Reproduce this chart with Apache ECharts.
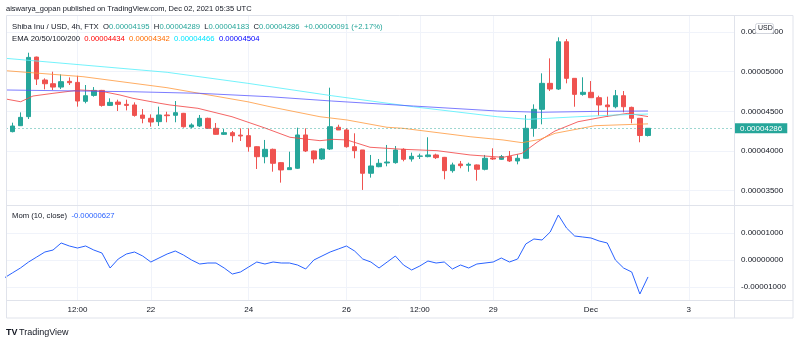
<!DOCTYPE html>
<html><head><meta charset="utf-8">
<script src="https://cdn.jsdelivr.net/npm/echarts@6/dist/echarts.min.js"></script>
<style>html,body{margin:0;padding:0;background:#fff}#c{width:800px;height:343px}</style>
</head><body><div id="c"></div>
<script>
// Prices are stored in units of 1e-8 USD (SHIB/USD, 4h candles, first candle = Nov 19 04:00)
const UNIT = 1e-8;
const opens  = [4244,4319,4433,5184,4895,4848,4806,4878,4865,4626,4701,4764,4575,4617,4588,4580,4453,4412,4370,4454,
                4450,4475,4302,4315,4412,4286,4210,4231,4200,4193,4054,3928,4021,3853,3765,3782,4202,4000,3899,4025,
                4299,4265,4054,4013,3719,3802,3849,3853,4021,3899,3933,3929,3950,3920,3752,3836,3820,3824,3769,3912,
                3895,3929,3874,3908,4286,4525,4853,4781,5377,4916,4714,4740,4672,4580,4558,4697,4550,4412,4195];
const closes = [4315,4424,5180,4907,4848,4806,4874,4861,4630,4697,4764,4575,4613,4588,4575,4449,4412,4365,4454,4445,
                4483,4306,4328,4412,4286,4210,4231,4193,4189,4054,3928,4021,3845,3761,3790,4202,4000,3899,4025,4306,
                4265,4054,4004,3719,3811,3845,3861,4013,3895,3933,3937,3950,3916,3752,3824,3815,3832,3769,3908,3899,
                3929,3874,3908,4286,4525,4853,4781,5377,4916,4714,4740,4672,4580,4558,4697,4558,4412,4195,4286];
const lows   = [4235,4315,4403,4832,4777,4769,4781,4832,4559,4601,4685,4559,4567,4504,4512,4433,4349,4307,4315,4362,
                4362,4294,4286,4302,4280,4205,4202,4110,4126,3991,3773,3845,3739,3601,3761,3773,3987,3845,3887,4013,
                4265,4042,3908,3509,3664,3795,3807,3840,3870,3866,3899,3920,3899,3643,3727,3782,3739,3626,3756,3887,
                3887,3861,3832,3899,4180,4336,4756,4769,4853,4558,4697,4668,4445,4433,4538,4488,4349,4110,4183];
const highs  = [4357,4487,5239,5190,4916,5000,4966,4928,4949,4832,4806,4770,4664,4647,4647,4613,4529,4462,4559,4495,
                4630,4480,4349,4454,4420,4353,4277,4252,4286,4286,4060,4139,4030,3860,3991,4294,4286,4005,4034,4798,
                4331,4286,4223,4013,3950,3899,4076,4063,4034,3979,3966,4173,3966,3925,3853,3874,3853,3830,3950,4034,
                3950,4000,3958,4454,4588,4979,5168,5433,5411,4920,4929,4882,4697,4685,4769,4756,4559,4412,4289];

// EMA lines (x = candle index, value in 1e-8 USD)
const ema20X  = [-0.77,1.03,2.54,4.99,8.31,10.76,13.21,14.81,18.12,19.35,22.78,26.96,31.0,34.07,37.75,39.35,41.06,43.89,47.94,52.11,56.17,60.21,62.54,64.5,66.59,69.41,72.72,75.54,78];
const ema20   = [4655,4621,4693,4727,4769,4756,4706,4664,4601,4580,4538,4432,4290,4173,4130,4147,4139,4047,4021,4004,3950,3920,3971,4118,4252,4369,4432,4475,4434];
const ema50X  = [-0.77,8.67,18.98,28.92,31.62,37.75,41.06,45.97,47.94,56.17,60.21,62.54,64.75,66.59,71.5,78];
const ema50   = [5012,4937,4798,4620,4558,4432,4391,4299,4286,4180,4139,4105,4147,4223,4319,4342];
const ema100X = [-0.77,8.67,19,28.9,39.2,49.2,59.5,63.3,69.4,74,78];
const ema100  = [5168,5084,4992,4853,4697,4558,4432,4399,4432,4454,4466];
const ema200X = [-0.77,14.8,23,31.6,39.2,49.2,59.5,64.7,72.1,78];
const ema200  = [4769,4747,4727,4684,4630,4567,4504,4488,4500,4504];

// Momentum (10, close), first value at candle index -1
const momStart = -1;
const mom = [-667,-481,-296,-74,111,296,370,630,519,444,519,370,259,-296,37,222,296,148,-74,74,
             222,333,185,0,-148,-111,-111,-296,-519,-444,-259,-74,-148,-74,-111,-111,-185,-333,0,148,
             296,407,519,333,37,-74,-296,-74,148,-185,-370,-222,-37,-111,-74,-333,-185,-296,-148,-111,
             -74,74,-74,37,593,778,741,1037,1667,1185,889,852,815,704,630,0,-296,-444,-1259,-627];

const timeTickIdx    = [8,17,29,41,50,59,71,83];
const timeTickLabels = ['12:00','22','24','26','12:00','29','Dec','3'];
const priceTicks = [3500,4000,4500,5000,5500];
const momTicks   = [-1000,0,1000];

const FONT = 'Liberation Sans';
const UP = '#26a69a', DOWN = '#ef5350', GRID = '#f0f3fa', FRAME = '#e0e3eb', TXT = '#131722';
const fmt = v => (v * UNIT).toFixed(8);

const last = closes.length - 1;
const chg = closes[last] - closes[last - 1];
const pct = (chg / closes[last - 1] * 100).toFixed(2);
const sgn = chg >= 0 ? '+' : '-';

const candleData = opens.map((o, i) => [i, o, closes[i], lows[i], highs[i]]);
const pairs = (xs, ys) => xs.map((x, i) => [x, ys[i]]);
const momData = mom.map((v, i) => [momStart + i, v]);

const xCommon = {
  type: 'value', min: -0.77, max: 88.55,
  axisLine: { show: false },
  axisTick: { show: false, customValues: timeTickIdx },
  splitLine: { show: true, lineStyle: { color: GRID, width: 1 } }
};
const LF = 7.7;

const chart = echarts.init(document.getElementById('c'), null, { renderer: 'canvas' });
chart.setOption({
  animation: false,
  backgroundColor: '#ffffff',
  textStyle: { fontFamily: FONT },
  grid: [
    { left: 6, top: 16, width: 728, height: 189 },
    { left: 6, top: 206, width: 728, height: 94 }
  ],
  xAxis: [
    Object.assign({ gridIndex: 0, axisLabel: { show: false } }, xCommon),
    Object.assign({ gridIndex: 1, axisLabel: {
      show: true, customValues: timeTickIdx, fontSize: 8, fontFamily: FONT, color: TXT, margin: 6,
      formatter: v => timeTickLabels[timeTickIdx.indexOf(v)] || ''
    } }, xCommon)
  ],
  yAxis: [
    { gridIndex: 0, type: 'value', position: 'right', min: 3319, max: 5702,
      axisLine: { show: false }, axisTick: { show: false, customValues: priceTicks },
      axisLabel: { customValues: priceTicks, formatter: fmt, fontSize: 8, fontFamily: FONT, color: TXT, align: 'left', margin: 7 },
      splitLine: { show: true, lineStyle: { color: GRID } } },
    { gridIndex: 1, type: 'value', position: 'right', min: -1481, max: 2000,
      axisLine: { show: false }, axisTick: { show: false, customValues: momTicks },
      axisLabel: { customValues: momTicks, formatter: fmt, fontSize: 8, fontFamily: FONT, color: TXT, align: 'left', margin: 7 },
      splitLine: { show: true, lineStyle: { color: GRID } } }
  ],
  series: [
    { type: 'candlestick', xAxisIndex: 0, yAxisIndex: 0, data: candleData,
      encode: { x: 0, y: [1, 2, 3, 4] }, barWidth: 5, z: 2,
      itemStyle: { color: UP, color0: DOWN, borderColor: UP, borderColor0: DOWN, borderWidth: 1 },
      markLine: { silent: true, symbol: ['none', 'none'], animation: false,
        lineStyle: { type: [2, 2], color: 'rgba(38,166,154,0.45)', width: 1 },
        label: { position: 'end', distance: 1, formatter: p => fmt(p.value), color: '#fff', backgroundColor: UP,
                 fontSize: 8, fontFamily: FONT, padding: [1, 5, 1, 5] },
        data: [{ yAxis: closes[last] }] } },
    { type: 'line', name: 'EMA20', xAxisIndex: 0, yAxisIndex: 0, data: pairs(ema20X, ema20), showSymbol: false, z: 3,
      lineStyle: { color: 'rgba(242,74,74,0.85)', width: 1 } },
    { type: 'line', name: 'EMA50', xAxisIndex: 0, yAxisIndex: 0, data: pairs(ema50X, ema50), showSymbol: false, z: 3,
      lineStyle: { color: 'rgba(255,152,60,0.8)', width: 1 } },
    { type: 'line', name: 'EMA100', xAxisIndex: 0, yAxisIndex: 0, data: pairs(ema100X, ema100), showSymbol: false, z: 3,
      lineStyle: { color: 'rgba(90,240,250,0.85)', width: 1 } },
    { type: 'line', name: 'EMA200', xAxisIndex: 0, yAxisIndex: 0, data: pairs(ema200X, ema200), showSymbol: false, z: 3,
      lineStyle: { color: 'rgba(80,80,255,0.75)', width: 1 } },
    { type: 'line', name: 'Mom', xAxisIndex: 1, yAxisIndex: 1, data: momData, showSymbol: false, z: 3,
      lineStyle: { color: '#2962ff', width: 1 } }
  ],
  graphic: [
    { type: 'rect', shape: { x: 6.5, y: 15.5, width: 786.5, height: 302.5 }, style: { fill: 'none', stroke: FRAME, lineWidth: 1 }, z: 10, silent: true },
    { type: 'line', shape: { x1: 6, y1: 205.5, x2: 793, y2: 205.5 }, style: { stroke: FRAME, lineWidth: 1 }, z: 10, silent: true },
    { type: 'line', shape: { x1: 6, y1: 300.5, x2: 793, y2: 300.5 }, style: { stroke: FRAME, lineWidth: 1 }, z: 10, silent: true },
    { type: 'line', shape: { x1: 734.5, y1: 15.5, x2: 734.5, y2: 318 }, style: { stroke: FRAME, lineWidth: 1 }, z: 10, silent: true },
    { type: 'text', left: 6, top: 5, z: 10,
      style: { text: 'aiswarya_gopan published on TradingView.com, Dec 02, 2021 05:35 UTC', font: '7.5px "' + FONT + '"', fill: TXT } },
    { type: 'text', left: 12, top: 23, z: 10,
      style: { text: '{a|Shiba Inu / USD, 4h, FTX  O}{v|' + fmt(opens[last]) + '}{a|  H}{v|' + fmt(highs[last]) + '}{a|  L}{v|' + fmt(lows[last]) +
               '}{a|  C}{v|' + fmt(closes[last]) + '}{v|  ' + sgn + fmt(Math.abs(chg)) + ' (' + sgn + pct + '%)}',
               rich: { a: { fontSize: LF, fontFamily: FONT, fill: TXT }, v: { fontSize: LF, fontFamily: FONT, fill: UP } } } },
    { type: 'text', left: 12, top: 35, z: 10,
      style: { text: '{a|EMA 20/50/100/200  }{r|' + fmt(ema20[ema20.length - 1]) + '}{a|  }{o|' + fmt(ema50[ema50.length - 1]) +
               '}{a|  }{c|' + fmt(ema100[ema100.length - 1]) + '}{a|  }{b|' + fmt(ema200[ema200.length - 1]) + '}',
               rich: { a: { fontSize: LF, fontFamily: FONT, fill: TXT }, r: { fontSize: LF, fontFamily: FONT, fill: '#ff0000' },
                       o: { fontSize: LF, fontFamily: FONT, fill: '#ff6d00' }, c: { fontSize: LF, fontFamily: FONT, fill: '#00e5ff' },
                       b: { fontSize: LF, fontFamily: FONT, fill: '#0000ff' } } } },
    { type: 'text', left: 12, top: 212, z: 10,
      style: { text: '{a|Mom (10, close)  }{b|' + fmt(mom[mom.length - 1]) + '}',
               rich: { a: { fontSize: LF, fontFamily: FONT, fill: TXT }, b: { fontSize: LF, fontFamily: FONT, fill: '#2962ff' } } } },
    { type: 'rect', shape: { x: 755.5, y: 23.5, width: 18, height: 10, r: 2 }, style: { fill: '#fff', stroke: '#d1d4dc', lineWidth: 1 }, z: 20 },
    { type: 'text', left: 758, top: 25, z: 21, style: { text: 'USD', font: '7px "' + FONT + '"', fill: TXT } },
    { type: 'text', left: 6, top: 328, z: 10, style: { text: 'TV', font: 'bold 9px "' + FONT + '"', fill: '#131722' } },
    { type: 'text', left: 19, top: 328, z: 10, style: { text: 'TradingView', font: '9px "' + FONT + '"', fill: '#131722' } }
  ]
});
</script>
</body></html>
